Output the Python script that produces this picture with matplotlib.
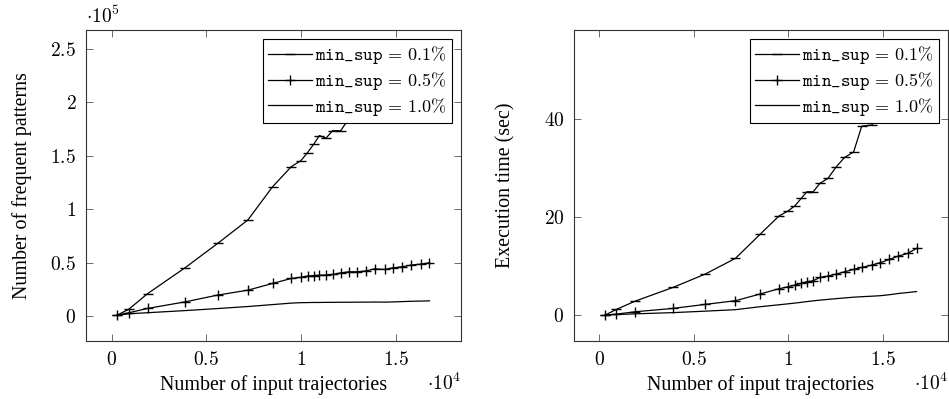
import matplotlib
matplotlib.use('Agg')
import matplotlib.pyplot as plt
from matplotlib.ticker import FixedLocator, FuncFormatter

plt.rcParams['mathtext.fontset'] = 'cm'
plt.rcParams['font.family'] = 'Liberation Serif'

# number of input trajectories
n_traj = [300, 900, 1900, 3900, 5600, 7200, 8500, 9500, 10000, 10350, 10680, 10980,
          11320, 11670, 12100, 12540, 12980, 13460, 13890, 14420, 14860, 15350,
          15820, 16320, 16790]

# number of frequent patterns (x 1e5)
pat_01 = [0.01, 0.063, 0.21, 0.455, 0.68, 0.90, 1.21, 1.40, 1.455, 1.53, 1.61, 1.69,
          1.665, 1.735, 1.735, 1.85, 1.93, 2.0, 2.06, 2.13, 2.19, 2.26, 2.32, 2.38, 2.435]
pat_05 = [0.01, 0.031, 0.072, 0.134, 0.197, 0.243, 0.306, 0.353, 0.363, 0.375, 0.38,
          0.383, 0.385, 0.39, 0.405, 0.415, 0.415, 0.424, 0.443, 0.437, 0.452, 0.462,
          0.478, 0.487, 0.499]
pat_10 = [0.01, 0.022, 0.032, 0.052, 0.071, 0.09, 0.108, 0.122, 0.126, 0.127, 0.128,
          0.128, 0.129, 0.129, 0.13, 0.13, 0.131, 0.131, 0.132, 0.131, 0.133, 0.136,
          0.139, 0.141, 0.143]

# execution time (sec)
time_01 = [0, 1.16, 2.86, 5.65, 8.37, 11.57, 16.46, 20.2, 21.29, 22.3, 23.8, 25.17,
           25.17, 26.87, 27.9, 30.27, 32.18, 33.3, 38.57, 38.78, 41.0, 43.3, 45.8,
           48.6, 52.9]
time_05 = [0, 0.2, 0.68, 1.36, 2.18, 2.93, 4.29, 5.37, 5.78, 6.12, 6.46, 6.8, 7.0,
           7.69, 7.96, 8.37, 8.84, 9.32, 9.73, 10.2, 10.68, 11.36, 12.04, 12.59, 13.6]
time_10 = [0, 0.1, 0.25, 0.5, 0.8, 1.1, 1.7, 2.1, 2.3, 2.45, 2.6, 2.75, 2.9, 3.05,
           3.2, 3.35, 3.5, 3.65, 3.75, 3.85, 3.95, 4.15, 4.4, 4.6, 4.8]

labels = [r'$\mathtt{min\_sup}\,=\,0.1\%$', r'$\mathtt{min\_sup}\,=\,0.5\%$',
          r'$\mathtt{min\_sup}\,=\,1.0\%$']

fig = plt.figure(figsize=(9.49, 3.99), dpi=100)
ax1 = fig.add_axes([0.0906, 0.1454, 0.3951, 0.7794])
ax2 = fig.add_axes([0.6048, 0.1454, 0.3940, 0.7794])

x = [v / 1e4 for v in n_traj]


def fmt(v, pos):
    return '$%g$' % v


for ax, ys, ylab, yt, ylx in [
        (ax1, (pat_01, pat_05, pat_10), 'Number of frequent patterns', [0, 0.5, 1, 1.5, 2, 2.5], -0.171),
        (ax2, (time_01, time_05, time_10), 'Execution time (sec)', [0, 20, 40], -0.182)]:
    ax.plot(x, ys[0], color='black', lw=0.9, marker='_', ms=7, mew=1.0, label=labels[0])
    ax.plot(x, ys[1], color='black', lw=0.9, marker='+', ms=7.5, mew=1.0, label=labels[1])
    ax.plot(x, ys[2], color='black', lw=0.9, label=labels[2])
    lo, hi = min(min(s) for s in ys), max(max(s) for s in ys)
    r = hi - lo
    ax.set_ylim(lo - 0.1 * r, hi + 0.1 * r)
    ax.set_xlim(-0.135, 1.845)
    ax.xaxis.set_major_locator(FixedLocator([0, 0.5, 1, 1.5]))
    ax.yaxis.set_major_locator(FixedLocator(yt))
    ax.xaxis.set_major_formatter(FuncFormatter(fmt))
    ax.yaxis.set_major_formatter(FuncFormatter(fmt))
    ax.tick_params(direction='in', length=5, width=0.6, top=True, right=True,
                   labelsize=14, color='#555555', pad=7)
    for sp in ax.spines.values():
        sp.set_linewidth(0.8)
        sp.set_color('#333333')
    ax.set_xlabel('Number of input trajectories', fontsize=14.4)
    ax.xaxis.set_label_coords(0.5, -0.1415)
    ax.xaxis.label.set_va('center')
    ax.set_ylabel(ylab, fontsize=14.4)
    ax.yaxis.set_label_coords(ylx, 0.5)
    ax.yaxis.label.set_va('center')
    leg = ax.legend(loc='upper right', fontsize=13, frameon=True, fancybox=False,
                    edgecolor='black', framealpha=1, handlelength=2.4,
                    handletextpad=0.2, borderpad=0.3, labelspacing=0.2,
                    borderaxespad=0.5)
    leg.get_frame().set_linewidth(0.8)
    ax.text(1.0, -0.135, r'$\cdot 10^4$', transform=ax.transAxes, fontsize=14,
            ha='right', va='center')

ax1.text(0.0, 1.01, r'$\cdot 10^5$', transform=ax1.transAxes, fontsize=14,
         ha='left', va='bottom')

fig.savefig('out.png', dpi=100)
